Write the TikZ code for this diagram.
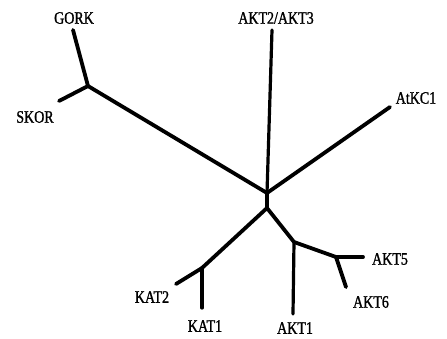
\documentclass[tikz,border=0pt]{standalone}
\usepackage{fontspec}
\setmainfont[FakeStretch=0.8,FakeBold=1.2]{Liberation Serif}
\begin{document}
\begin{tikzpicture}[x=1pt,y=-1pt,
  branch/.style={line width=3.8pt,line cap=round,line join=round},
  thin/.style={line width=3.2pt,line cap=round},
  lab/.style={font=\fontsize{17.5}{17.5}\selectfont,inner sep=0pt}]
\useasboundingbox (0,0) rectangle (447,338);
% internal nodes
\coordinate (U) at (267,193);
\coordinate (L) at (267,208);
\coordinate (GS) at (88,86);
\coordinate (KK) at (202,268);
\coordinate (AA) at (294,242);
\coordinate (A56) at (336,257);
% leaf ends
\coordinate (gork) at (73,30);
\coordinate (skor) at (59,101);
\coordinate (akt23) at (272,30);
\coordinate (atkc) at (390,107);
\coordinate (kat2) at (176,284);
\coordinate (kat1) at (202,308);
\coordinate (akt1) at (293,314);
\coordinate (akt5) at (363,257);
\coordinate (akt6) at (346,287);
% branches
\draw[branch] (U) -- (L);
\draw[branch] (U) -- (GS);
\draw[branch] (GS) -- (gork);
\draw[branch] (GS) -- (skor);
\draw[thin] (U) -- (akt23);
\draw[branch] (U) -- (atkc);
\draw[branch] (L) -- (KK);
\draw[branch] (KK) -- (kat2);
\draw[thin] (KK) -- (kat1);
\draw[branch] (L) -- (AA);
\draw[thin] (AA) -- (akt1);
\draw[branch] (AA) -- (A56);
\draw[branch] (A56) -- (akt5);
\draw[branch] (A56) -- (akt6);
% labels
\node[lab] (tgork) at (74,18) {GORK};
\node[lab] (tskor) at (35,117) {SKOR};
\node[lab] (takt23) at (276,18) {AKT2/AKT3};
\node[lab] (tatkc) at (416,98) {AtKC1};
\node[lab] (tkat2) at (152,297) {KAT2};
\node[lab] (tkat1) at (205,326) {KAT1};
\node[lab] (takt1) at (295,328) {AKT1};
\node[lab] (takt5) at (390,259) {AKT5};
\node[lab] (takt6) at (371,302) {AKT6};
\end{tikzpicture}
\end{document}
